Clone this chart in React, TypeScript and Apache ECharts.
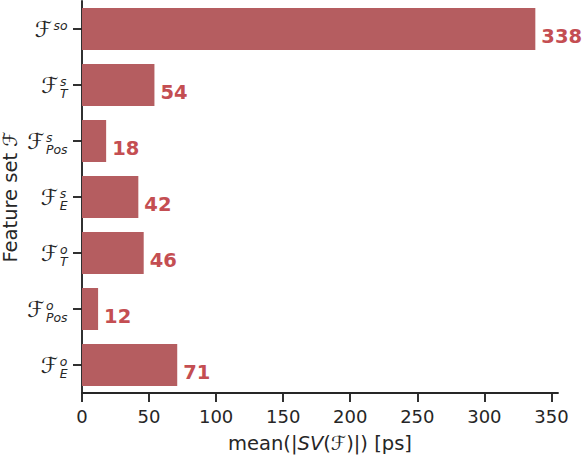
import React, { useEffect, useRef } from "react";
import * as echarts from "echarts";

const labelSup = ["so", "s", "s", "s", "o", "o", "o"];
const labelSub = ["", "T", "Pos", "E", "T", "Pos", "E"];
const categories = ["F^so", "F^s_T", "F^s_Pos", "F^s_E", "F^o_T", "F^o_Pos", "F^o_E"];
const values = [338, 54, 18, 42, 46, 12, 71];
const xTicks = [0, 50, 100, 150, 200, 250, 300, 350];
const xMax = 354.9;

const FONT = "DejaVu Sans";
const TXT = "#262626";

let measureCtx: CanvasRenderingContext2D | null = null;
function textWidth(text: string, font: string): number {
  if (!measureCtx) {
    const c = document.createElement("canvas");
    measureCtx = c.getContext("2d");
  }
  if (!measureCtx) return text.length * 7;
  measureCtx.font = font;
  return measureCtx.measureText(text).width;
}

export default function App() {
  const ref = useRef<HTMLDivElement>(null);
  useEffect(() => {
    document.body.style.margin = "0";
    if (!ref.current) return;
    const chart = echarts.init(ref.current, undefined, { renderer: "svg" });
    const mainSize = 22;
    const smallSize = 12.4;
    const smallFont = `italic ${smallSize}px "${FONT}"`;
    chart.setOption({
      animation: false,
      textStyle: { fontFamily: FONT },
      grid: { left: 82, right: 28, top: 1, bottom: 65, outerBoundsMode: "none", containLabel: false },
      xAxis: {
        type: "value",
        min: 0,
        max: xMax,
        splitLine: { show: false },
        axisLine: { show: true, lineStyle: { color: TXT, width: 1.9 } },
        axisTick: { show: true, length: 9, lineStyle: { color: TXT, width: 1.9 }, customValues: xTicks },
        axisLabel: { color: TXT, fontSize: 18, margin: 14, customValues: xTicks },
        name: "{n|mean(|}{i|SV}{n|(ℱ)|) [ps]}",
        nameLocation: "middle",
        nameGap: 40,
        nameTextStyle: {
          rich: {
            n: { fontSize: 19.5, color: TXT, fontFamily: FONT },
            i: { fontSize: 19.5, color: TXT, fontFamily: FONT, fontStyle: "italic" },
          },
        },
      },
      yAxis: {
        type: "category",
        inverse: true,
        data: categories,
        axisLine: { show: true, lineStyle: { color: TXT, width: 1.9 } },
        axisTick: { show: true, alignWithLabel: true, length: 9, lineStyle: { color: TXT, width: 1.9 } },
        axisLabel: { show: false },
        name: "Feature set ℱ",
        nameLocation: "middle",
        nameGap: 62,
        nameTextStyle: { fontSize: 19.5, color: TXT, fontFamily: FONT },
      },
      series: [
        {
          type: "bar",
          data: values,
          barCategoryGap: "25%",
          itemStyle: { color: "#b55d60" },
          label: {
            show: true,
            position: "right",
            distance: 6,
            offset: [0, 7],
            formatter: "{c}",
            color: "#c44e52",
            fontWeight: "bold",
            fontSize: 19.5,
            fontFamily: FONT,
          },
        },
        {
          type: "custom",
          silent: true,
          clip: false,
          data: categories.map((_, i) => [0, i]),
          encode: { x: 0, y: 1 },
          renderItem: (params: any, api: any) => {
            const i = params.dataIndex;
            const p = api.coord([0, i]);
            const R = p[0] - 16;
            const yc = p[1];
            const sup = labelSup[i];
            const sub = labelSub[i];
            const supW = textWidth(sup, smallFont);
            const subW = sub ? textWidth(sub, smallFont) : 0;
            const fRight = R - Math.max(supW, subW);
            const scriptText = sub ? `${sup}\n${sub}` : sup;
            const scriptY = sub ? yc + 2.4 : yc - 3.9;
            const children: any[] = [
              {
                type: "text",
                x: fRight,
                y: yc + 0.5,
                style: { text: "ℱ", fill: TXT, fontSize: mainSize, fontFamily: FONT, align: "right", verticalAlign: "middle", lineHeight: 16 },
              },
              {
                type: "text",
                x: fRight + 1.5,
                y: scriptY,
                style: { text: scriptText, fill: TXT, fontSize: smallSize, fontFamily: FONT, fontStyle: "italic", align: "left", verticalAlign: "middle", lineHeight: 12.6 },
              },
            ];
            return { type: "group", children };
          },
        },
      ],
    });
    return () => chart.dispose();
  }, []);
  return <div ref={ref} style={{ width: 586, height: 458 }} />;
}
